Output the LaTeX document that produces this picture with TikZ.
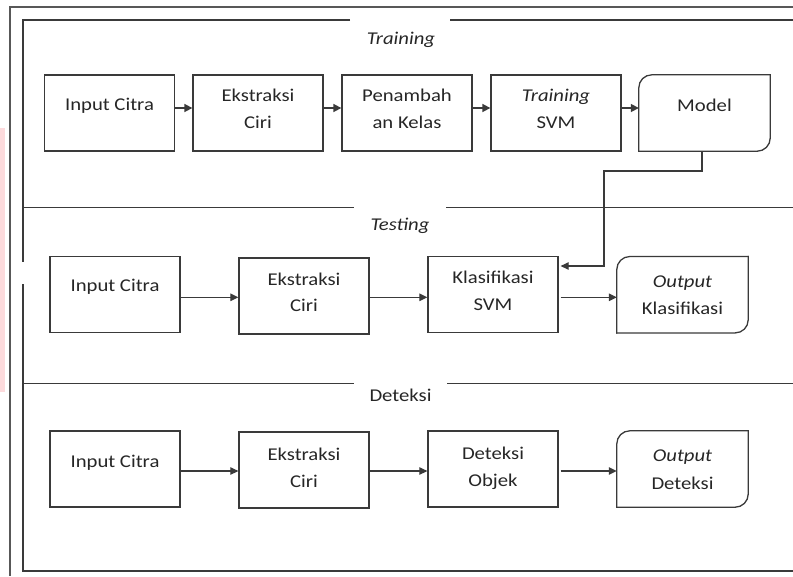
\documentclass[tikz,border=0pt]{standalone}
\usepackage{fontspec}
\setmainfont{Carlito}[FakeStretch=1.15]
\usetikzlibrary{arrows.meta}
\definecolor{ln}{HTML}{3A3A3A}
\definecolor{tx}{HTML}{262626}
\definecolor{pinkband}{HTML}{FDDADC}
\newcommand\mylab[4]{\node[txt] (#1) at (#2,#3) {#4};}
\tikzset{
  box/.style={draw=ln, line width=1.3pt, minimum width=130pt, minimum height=76pt, inner sep=0pt},
  ghost/.style={draw=none, minimum width=130pt, minimum height=76pt, inner sep=0pt},
  txt/.style={anchor=base, inner sep=0pt, text=tx, font=\fontsize{18}{20}\selectfont},
  ttl/.style={anchor=base, inner sep=0pt, text=tx, font=\fontsize{18}{20}\selectfont},
  frame/.style={draw=ln, line width=1.3pt},
  arr/.style={draw=ln, line width=1.2pt, -{Triangle[length=8pt,width=7.5pt]}},
  arrb/.style={draw=ln, line width=1.6pt, -{Triangle[length=8pt,width=8pt]}},
  rbox/.style={draw=ln, line width=1.3pt, rounded corners=13pt, line cap=rect}
}
\begin{document}
\begin{tikzpicture}[x=1pt,y=-1pt]
\useasboundingbox (0,0) rectangle (793,576);
% left pink band
\fill[pinkband] (0,128) rectangle (5,392);
% outer frame
\draw[draw=ln!85, line width=2pt] (793,7) -- (10,7) -- (10,576);
% inner frame
\draw[frame] (350,20) -- (23,20) -- (23,262);
\draw[frame] (450,20) -- (793,20);
\draw[frame] (23,284) -- (23,571) -- (793,571);
\draw[frame] (23,207.7) -- (354,207.7);
\draw[frame] (446,207.7) -- (793,207.7);
\draw[frame] (23,383.5) -- (354,383.5);
\draw[frame] (447,383.5) -- (793,383.5);
% section titles
\node[ttl] (tTrain) at (401,44.3) {\itshape Training};
\node[ttl] (tTest) at (400,230) {\itshape Testing};
\node[ttl] (tDet) at (400.5,401.7) {Deteksi};
% row 1: training
\node[box] (a1) at (109.5,113) {};
\node[box] (a2) at (258,113) {};
\node[box] (a3) at (407,113) {};
\node[box] (a4) at (556,113) {};
\node[ghost, minimum width=131pt] (a5) at (704.5,113) {};
\draw[rbox] (a5.south west) |- (a5.north east);
\draw[rbox] (a5.north east) |- (a5.south west);
\mylab{a1t}{109.5}{110}{Input Citra}
\mylab{a2t}{258}{101.7}{Ekstraksi}
\mylab{a2u}{258}{128.3}{Ciri}
\mylab{a3t}{407}{101.7}{Penambah}
\mylab{a3u}{407}{128.3}{an Kelas}
\mylab{a4t}{556}{101.7}{\itshape Training}
\mylab{a4u}{556}{128.3}{SVM}
\mylab{a5t}{704.5}{111.7}{Model}
\draw[arrb] ([yshift=5pt]a1.east) -- ([yshift=5pt]a2.west);
\draw[arrb] ([yshift=5pt]a2.east) -- ([yshift=5pt]a3.west);
\draw[arrb] ([yshift=5pt]a3.east) -- ([yshift=5pt]a4.west);
\draw[arrb] ([yshift=5pt]a4.east) -- ([yshift=5pt]a5.west);
% row 2: testing
\node[box] (b1) at (115,294.7) {};
\node[box] (b2) at (304,296) {};
\node[box] (b3) at (493,294.7) {};
\node[ghost, minimum width=131pt] (b4) at (682.5,294.7) {};
\draw[rbox] (b4.south west) |- (b4.north east);
\draw[rbox] (b4.north east) |- (b4.south west);
\mylab{b1t}{115}{291.7}{Input Citra}
\mylab{b2t}{304}{285}{Ekstraksi}
\mylab{b2u}{304}{311.7}{Ciri}
\mylab{b3t}{493}{283.3}{Klasifikasi}
\mylab{b3u}{493}{310}{SVM}
\mylab{b4t}{682.5}{287.3}{\itshape Output}
\mylab{b4u}{682.5}{314}{Klasifikasi}
\draw[arr] (b1.east |- 0,297.3) -- (b2.west |- 0,297.3);
\draw[arr] (b2.east |- 0,297.3) -- (b3.west |- 0,297.3);
\draw[arr] ([xshift=2pt]b3.east |- 0,297.3) -- (b4.west |- 0,297.3);
% model -> klasifikasi
\coordinate (m1) at (604,171);
\draw[arr] ([xshift=-2.5pt]a5.south) |- (m1) |- ([xshift=2pt]b3.east |- 0,266);
% row 3: deteksi
\node[box] (c1) at (115,469) {};
\node[box] (c2) at (304,470) {};
\node[box] (c3) at (493,469) {};
\node[ghost, minimum width=131pt] (c4) at (682.5,469) {};
\draw[rbox] (c4.south west) |- (c4.north east);
\draw[rbox] (c4.north east) |- (c4.south west);
\mylab{c1t}{115}{467.3}{Input Citra}
\mylab{c2t}{304}{460}{Ekstraksi}
\mylab{c2u}{304}{487.3}{Ciri}
\mylab{c3t}{493}{459}{Deteksi}
\mylab{c3u}{493}{486}{Objek}
\mylab{c4t}{682.5}{461.7}{\itshape Output}
\mylab{c4u}{682.5}{489.3}{Deteksi}
\draw[arr] (c1.east |- 0,471) -- (c2.west |- 0,471);
\draw[arr] (c2.east |- 0,471) -- (c3.west |- 0,471);
\draw[arr] ([xshift=2pt]c3.east |- 0,471) -- (c4.west |- 0,471);
\end{tikzpicture}
\end{document}
